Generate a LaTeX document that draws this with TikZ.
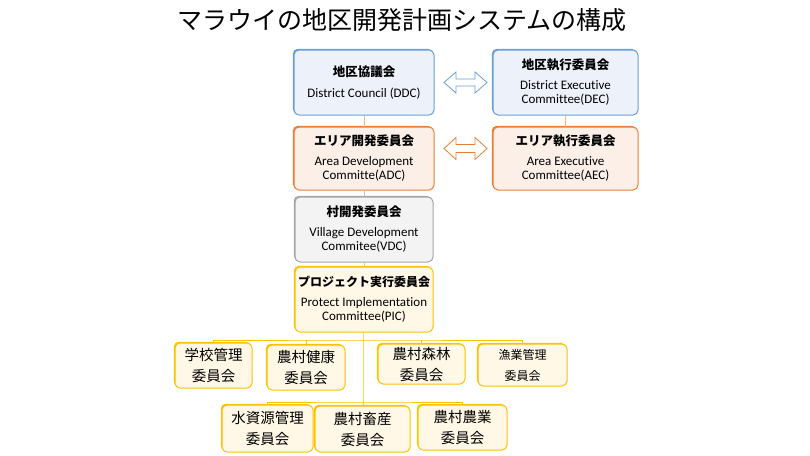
\documentclass[tikz,border=0pt]{standalone}
\usepackage{fontspec}
\setmainfont{Carlito}[Ligatures=NoCommon]
\newfontfamily\jp{Noto Sans CJK JP}
\usetikzlibrary{shadows}
\definecolor{blueline}{HTML}{6A9FD6}
\definecolor{bluefill}{HTML}{EDF2FA}
\definecolor{orangeline}{HTML}{ED7D31}
\definecolor{orangefill}{HTML}{FCEFE8}
\definecolor{grayline}{HTML}{A5A5A5}
\definecolor{grayfill}{HTML}{F3F3F3}
\definecolor{yellowline}{HTML}{FFC000}
\definecolor{yellowfill}{HTML}{FFF8E6}
\definecolor{peachline}{HTML}{F4B183}
\begin{document}
\begin{tikzpicture}[x=1pt,y=-1pt,
  box/.style={shape=rectangle,rounded corners=5pt,line width=1pt,align=center,inner sep=1pt,
    font=\fontsize{13}{14.5}\selectfont},
  bluebox/.style={box,draw=blueline,fill=bluefill,general shadow={fill=blueline,shadow xshift=-1.2pt,shadow yshift=1.2pt}},
  orangebox/.style={box,draw=orangeline,fill=orangefill,general shadow={fill=orangeline,shadow xshift=-1.2pt,shadow yshift=1.2pt}},
  graybox/.style={box,draw=grayline,fill=grayfill,general shadow={fill=grayline,shadow xshift=-1.2pt,shadow yshift=1.2pt}},
  yellowbox/.style={box,draw=yellowline,fill=yellowfill,general shadow={fill=yellowline,shadow xshift=-1.2pt,shadow yshift=1.2pt}},
  unitbox/.style={yellowbox,font=\jp\fontsize{14.5}{21}\selectfont},
  twoway/.style={draw=#1,fill=white,line width=0.8pt,line join=miter},
  bus/.style={draw=yellowline,line width=1pt}
]
\useasboundingbox (0,0) rectangle (810,455);
\node (title) at (402,20) {\jp\fontsize{25}{28}\selectfont マラウイの地区開発計画システムの構成};

% upper levels
\node[bluebox,minimum width=140pt,minimum height=65pt] (ddc) at (364,82.5)
  {{\jp\bfseries\fontsize{12.5}{14}\selectfont 地区協議会}\\[6pt] District Council (DDC)};
\node[bluebox,minimum width=145pt,minimum height=65pt] (dec) at (565.5,82.5)
  {{\jp\bfseries\fontsize{12.5}{14}\selectfont 地区執行委員会}\\[5pt] District Executive\\ Committee(DEC)};
\node[orangebox,minimum width=140pt,minimum height=63pt] (adc) at (364,158.5)
  {{\jp\bfseries\fontsize{12.5}{14}\selectfont エリア開発委員会}\\[5pt] Area Development\\ Committe(ADC)};
\node[orangebox,minimum width=145pt,minimum height=63pt] (aec) at (565.5,158.5)
  {{\jp\bfseries\fontsize{12.5}{14}\selectfont エリア執行委員会}\\[5pt] Area Executive\\ Committee(AEC)};
\node[graybox,minimum width=138pt,minimum height=65pt] (vdc) at (364,229.5)
  {{\jp\bfseries\fontsize{12.5}{14}\selectfont 村開発委員会}\\[5pt] Village Development\\ Commitee(VDC)};
\node[yellowbox,minimum width=138pt,minimum height=65pt] (pic) at (364,299.5)
  {{\jp\bfseries\fontsize{12}{14}\selectfont プロジェクト実行委員会}\\[5pt] Protect Implementation\\ Committee(PIC)};

% two-way arrows
\draw[twoway=blueline] (444,82.5) -- ++(12,-10.5) -- ++(0,7) -- ++(19,0) -- ++(0,-7) -- ++(12,10.5)
  -- ++(-12,10.5) -- ++(0,-7) -- ++(-19,0) -- ++(0,7) -- cycle;
\draw[twoway=orangeline] (444,148.5) -- ++(12,-11) -- ++(0,7) -- ++(19,0) -- ++(0,-7) -- ++(12,11)
  -- ++(-12,11) -- ++(0,-7) -- ++(-19,0) -- ++(0,7) -- cycle;

% committees
\node[unitbox,minimum width=77pt,minimum height=45pt] (school) at (213.5,365.5) {学校管理\\委員会};
\node[unitbox,minimum width=78pt,minimum height=45pt] (health) at (306,367.5) {農村健康\\委員会};
\node[unitbox,minimum width=87pt,minimum height=40pt] (forest) at (421.5,364) {農村森林\\委員会};
\node[unitbox,minimum width=89pt,minimum height=42pt,font=\jp\fontsize{12}{21}\selectfont] (fishery) at (522.5,365) {漁業管理\\委員会};
\node[unitbox,minimum width=91pt,minimum height=47pt] (water) at (267.5,428.5) {水資源管理\\委員会};
\node[unitbox,minimum width=95pt,minimum height=46pt] (livestock) at (362.5,429) {農村畜産\\委員会};
\node[unitbox,minimum width=89pt,minimum height=45pt] (farming) at (462.5,427.5) {農村農業\\委員会};

\coordinate (bus1) at (363,340);
\coordinate (bus2) at (363,402);

\path[draw=peachline,line width=1pt]
  (ddc) edge (adc)
  (dec) edge (aec);
\path[draw=grayline!70,line width=1pt] (adc) edge (vdc);
\path[draw=yellowline!80,line width=1pt] (vdc) edge (pic);

\draw[bus] (pic.south -| bus1) -- (bus2) -- (bus2 |- livestock.north);
\draw[bus] (school.north) |- (bus1) -| (fishery.north);
\draw[bus] (health.north) -- (health.north |- bus1);
\draw[bus] (forest.north) -- (forest.north |- bus1);
\draw[bus] (water.north) |- (bus2) -| (farming.north);
\end{tikzpicture}
\end{document}
